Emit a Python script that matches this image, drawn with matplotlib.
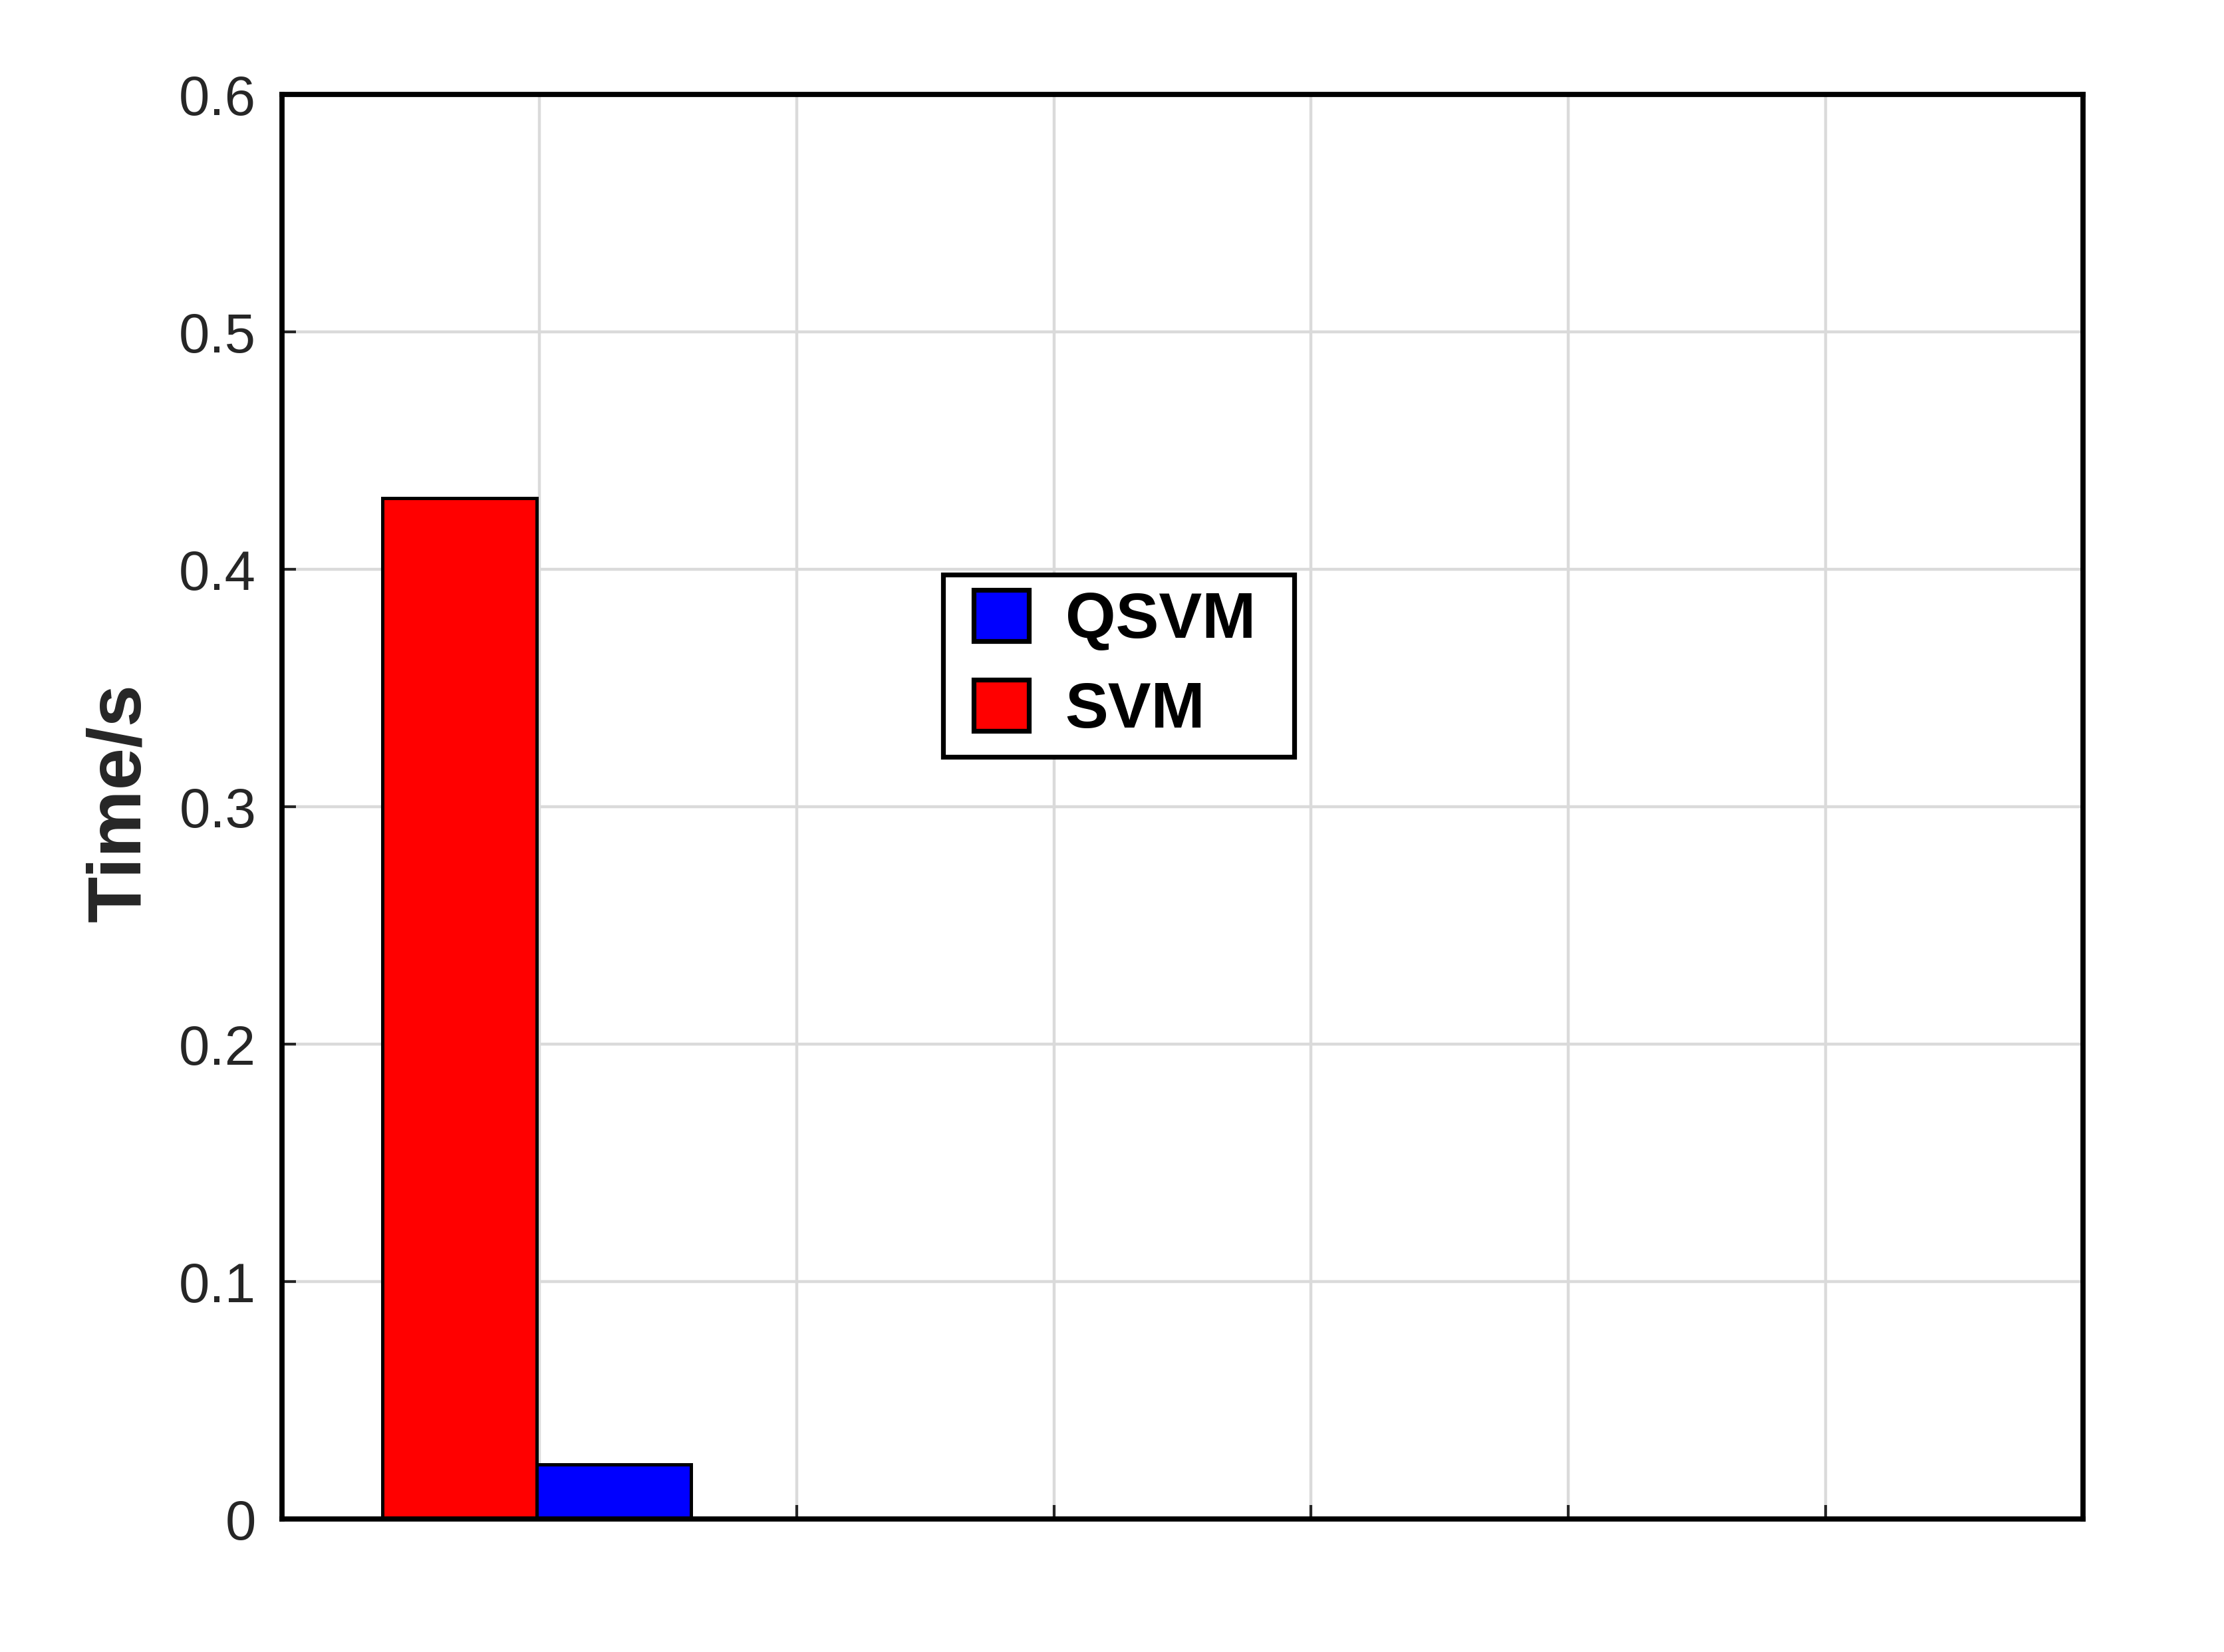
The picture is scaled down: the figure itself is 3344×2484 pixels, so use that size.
import matplotlib.pyplot as plt
import matplotlib.patches as mpatches
from matplotlib.legend_handler import HandlerPatch
import numpy as np

plt.rcParams['font.family'] = ['Liberation Sans', 'DejaVu Sans']

# bar values (seconds)
methods = ["SVM", "QSVM"]
times = [0.43, 0.023]
colors = ["#ff0000", "#0000ff"]
x_pos = [0.69, 1.29]
bar_w = 0.6
yticks = [0, 0.1, 0.2, 0.3, 0.4, 0.5, 0.6]
ytick_labels = ["0", "0.1", "0.2", "0.3", "0.4", "0.5", "0.6"]

fig = plt.figure(figsize=(16.72, 12.42), dpi=200)
ax = fig.add_axes([0.1268, 0.0805, 0.8098, 0.8623])

bars = {}
for m, t, c, xp in zip(methods, times, colors, x_pos):
    bars[m] = ax.bar(xp, t, width=bar_w, color=c, edgecolor="black",
                     linewidth=1.8, zorder=3)

ax.set_xlim(0, 7)
ax.set_ylim(0, 0.6)
ax.set_xticks(np.arange(0, 8))
ax.set_xticklabels([])
ax.set_yticks(yticks)
ax.set_yticklabels(ytick_labels)

ax.grid(True, color="#dadada", linewidth=1.6, zorder=0)
ax.set_axisbelow(True)

for s in ax.spines.values():
    s.set_linewidth(2.8)
    s.set_color("black")
    s.set_zorder(5)

ax.tick_params(axis="both", direction="in", length=7.5, width=1.5,
               color="#262626", labelsize=30, labelcolor="#262626", pad=14)
ax.tick_params(top=False, right=False)

ax.set_ylabel("Time/s", fontsize=41, fontweight="bold", color="#262626")
ax.yaxis.set_label_coords(-0.070, 0.503)


# legend swatch shifted right inside the handle box (matlab-like padding)
def swatch(legend, orig_handle, xdescent, ydescent, width, height, fontsize):
    off = 0.23 * fontsize
    w = width - off - 0.09 * fontsize
    return mpatches.Rectangle((-xdescent + off, -ydescent), w, height)


leg = ax.legend([bars["QSVM"][0], bars["SVM"][0]], ["QSVM", "SVM"],
                loc="upper left", bbox_to_anchor=(0.367, 0.5345, 0.195, 0.1285),
                mode="expand", borderaxespad=0, fancybox=False, framealpha=1,
                edgecolor="black", prop={"size": 35, "weight": "bold"},
                handlelength=1.18, handleheight=0.84, handletextpad=0.47,
                labelspacing=0.44, borderpad=0.24,
                handler_map={mpatches.Rectangle: HandlerPatch(patch_func=swatch)})
leg.get_frame().set_linewidth(2.6)
for p in leg.get_patches():
    p.set_linewidth(2.6)

fig.savefig("out.png", dpi=200)
